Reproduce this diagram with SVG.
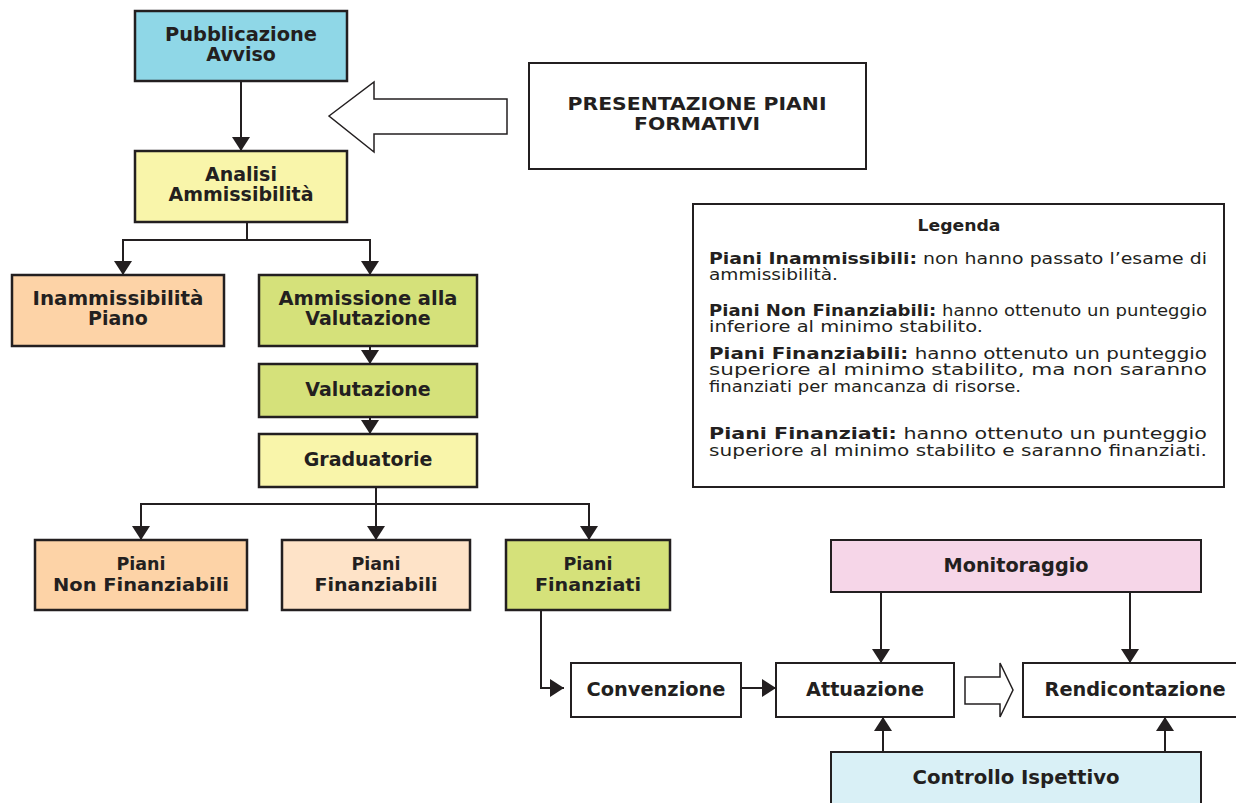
<svg xmlns="http://www.w3.org/2000/svg" width="1236" height="803" viewBox="0 0 1236 803">
<defs>
<marker id="ah" viewBox="0 0 14 18" refX="14" refY="9" markerWidth="14" markerHeight="18" markerUnits="userSpaceOnUse" orient="auto">
<path d="M0,0 L14,9 L0,18 z" fill="#231f20"/>
</marker>
<style>
.box{stroke:#231f20;stroke-width:2.5}
.v{font-family:"DejaVu Sans",Verdana,sans-serif;font-weight:bold;font-size:19px;fill:#231f20;text-anchor:middle}
.c{font-family:"DejaVu Sans Condensed","DejaVu Sans",sans-serif;font-stretch:condensed;font-weight:bold;font-size:20px;fill:#231f20;text-anchor:middle}
.c2{font-size:18.5px}
.lg{font-family:"DejaVu Sans",Verdana,sans-serif;font-size:15px;fill:#231f20}
.lb{font-weight:bold}
.cn{fill:none;stroke:#231f20;stroke-width:2}
</style>
</defs>
<rect width="1236" height="803" fill="#ffffff"/>

<g id="connectors">
<line class="cn" x1="241" y1="82" x2="241" y2="151" marker-end="url(#ah)"/>
<polyline class="cn" points="247,223 247,240 123,240 123,275" marker-end="url(#ah)"/>
<polyline class="cn" points="247,240 370,240 370,275" marker-end="url(#ah)"/>
<line class="cn" x1="370" y1="346" x2="370" y2="364" marker-end="url(#ah)"/>
<line class="cn" x1="370" y1="417" x2="370" y2="434" marker-end="url(#ah)"/>
<polyline class="cn" points="376,487 376,504 141,504 141,540" marker-end="url(#ah)"/>
<line class="cn" x1="376" y1="504" x2="376" y2="540" marker-end="url(#ah)"/>
<polyline class="cn" points="376,504 589,504 589,540" marker-end="url(#ah)"/>
<polyline class="cn" points="541,611 541,688 564,688" marker-end="url(#ah)"/>
<line class="cn" x1="741" y1="688" x2="776" y2="688" marker-end="url(#ah)"/>
<line class="cn" x1="881" y1="592" x2="881" y2="663" marker-end="url(#ah)"/>
<line class="cn" x1="1130" y1="592" x2="1130" y2="663" marker-end="url(#ah)"/>
<line class="cn" x1="883" y1="752" x2="883" y2="717" marker-end="url(#ah)"/>
<line class="cn" x1="1165" y1="752" x2="1165" y2="717" marker-end="url(#ah)"/>
<polygon points="329,116 374,82 374,99 507,99 507,134 374,134 374,152" fill="#ffffff" stroke="#231f20" stroke-width="1.5"/>
<polygon points="965,677 1000,677 1000,663 1013,690 1000,717 1000,704 965,704" fill="#ffffff" stroke="#231f20" stroke-width="1.5"/>
</g>

<g id="pubblicazione">
<rect class="box" x="135" y="11" width="212" height="70" fill="#8fd7e7"/>
<text class="v" x="241" y="40.5" textLength="152" lengthAdjust="spacingAndGlyphs">Pubblicazione</text>
<text class="v" x="241" y="61">Avviso</text>
</g>

<g id="presentazione">
<rect x="529" y="63" width="337" height="106" fill="#ffffff" stroke="#231f20" stroke-width="2"/>
<text class="v" x="697" y="110" style="font-size:18px" textLength="259" lengthAdjust="spacingAndGlyphs">PRESENTAZIONE PIANI</text>
<text class="v" x="697" y="130" style="font-size:18px" textLength="126" lengthAdjust="spacingAndGlyphs">FORMATIVI</text>
</g>

<g id="analisi">
<rect class="box" x="135" y="151" width="212" height="71" fill="#f9f5aa"/>
<text class="v" x="241" y="180.5">Analisi</text>
<text class="v" x="241" y="201">Ammissibilità</text>
</g>

<g id="legenda">
<rect x="693" y="204" width="531" height="283" fill="#ffffff" stroke="#231f20" stroke-width="2"/>
<text class="lg lb" x="959" y="231" text-anchor="middle" textLength="83" lengthAdjust="spacingAndGlyphs">Legenda</text>
<text class="lg" x="709" y="264" textLength="498" lengthAdjust="spacingAndGlyphs"><tspan class="lb">Piani Inammissibili:</tspan> non hanno passato l’esame di</text>
<text class="lg" x="709" y="280" textLength="129" lengthAdjust="spacingAndGlyphs">ammissibilità.</text>
<text class="lg" x="709" y="316" textLength="498" lengthAdjust="spacingAndGlyphs"><tspan class="lb">Piani Non Finanziabili:</tspan> hanno ottenuto un punteggio</text>
<text class="lg" x="709" y="332" textLength="274" lengthAdjust="spacingAndGlyphs">inferiore al minimo stabilito.</text>
<text class="lg" x="709" y="359" textLength="498" lengthAdjust="spacingAndGlyphs"><tspan class="lb">Piani Finanziabili:</tspan> hanno ottenuto un punteggio</text>
<text class="lg" x="709" y="375" textLength="498" lengthAdjust="spacingAndGlyphs">superiore al minimo stabilito, ma non saranno</text>
<text class="lg" x="709" y="392" textLength="312" lengthAdjust="spacingAndGlyphs">finanziati per mancanza di risorse.</text>
<text class="lg" x="709" y="439" textLength="498" lengthAdjust="spacingAndGlyphs"><tspan class="lb">Piani Finanziati:</tspan> hanno ottenuto un punteggio</text>
<text class="lg" x="709" y="456" textLength="498" lengthAdjust="spacingAndGlyphs">superiore al minimo stabilito e saranno finanziati.</text>
</g>

<g id="inammissibilita">
<rect class="box" x="12" y="275" width="212" height="71" fill="#fdd3a7"/>
<text class="v" x="118" y="304.5" textLength="171" lengthAdjust="spacingAndGlyphs">Inammissibilità</text>
<text class="v" x="118" y="325">Piano</text>
</g>

<g id="ammissione">
<rect class="box" x="259" y="275" width="218" height="71" fill="#d5e17a"/>
<text class="v" x="368" y="304.5" textLength="179" lengthAdjust="spacingAndGlyphs">Ammissione alla</text>
<text class="v" x="368" y="325">Valutazione</text>
</g>

<g id="valutazione">
<rect class="box" x="259" y="364" width="218" height="53" fill="#d5e17a"/>
<text class="v" x="368" y="396">Valutazione</text>
</g>

<g id="graduatorie">
<rect class="box" x="259" y="434" width="218" height="53" fill="#f9f5aa"/>
<text class="v" x="368" y="466">Graduatorie</text>
</g>

<g id="non-finanziabili">
<rect class="box" x="35" y="540" width="212" height="70" fill="#fdd3a7"/>
<text class="c c2" x="141" y="569.5" textLength="49" lengthAdjust="spacingAndGlyphs">Piani</text>
<text class="c c2" x="141" y="591" textLength="176" lengthAdjust="spacingAndGlyphs">Non Finanziabili</text>
</g>

<g id="finanziabili">
<rect class="box" x="282" y="540" width="188" height="70" fill="#fee3c8"/>
<text class="c c2" x="376" y="569.5" textLength="49" lengthAdjust="spacingAndGlyphs">Piani</text>
<text class="c c2" x="376" y="591" textLength="123" lengthAdjust="spacingAndGlyphs">Finanziabili</text>
</g>

<g id="finanziati">
<rect class="box" x="506" y="540" width="164" height="70" fill="#d5e17a"/>
<text class="c c2" x="588" y="569.5" textLength="49" lengthAdjust="spacingAndGlyphs">Piani</text>
<text class="c c2" x="588" y="591" textLength="106" lengthAdjust="spacingAndGlyphs">Finanziati</text>
</g>

<g id="convenzione">
<rect x="571" y="663" width="170" height="54" fill="#ffffff" stroke="#231f20" stroke-width="2"/>
<text class="c" x="656" y="696" textLength="139" lengthAdjust="spacingAndGlyphs">Convenzione</text>
</g>

<g id="attuazione">
<rect x="776" y="663" width="178" height="54" fill="#ffffff" stroke="#231f20" stroke-width="2"/>
<text class="c" x="865" y="696" textLength="118" lengthAdjust="spacingAndGlyphs">Attuazione</text>
</g>

<g id="rendicontazione">
<rect x="1023" y="663" width="220" height="54" fill="#ffffff" stroke="#231f20" stroke-width="2"/>
<text class="c" x="1135" y="696" textLength="181" lengthAdjust="spacingAndGlyphs">Rendicontazione</text>
</g>

<g id="monitoraggio">
<rect x="831" y="540" width="370" height="52" fill="#f6d6e8" stroke="#231f20" stroke-width="2"/>
<text class="c" x="1016" y="572" textLength="145" lengthAdjust="spacingAndGlyphs">Monitoraggio</text>
</g>

<g id="controllo">
<rect x="831" y="752" width="370" height="60" fill="#d9f0f6" stroke="#231f20" stroke-width="2"/>
<text class="c" x="1016" y="784" textLength="207" lengthAdjust="spacingAndGlyphs">Controllo Ispettivo</text>
</g>
</svg>
